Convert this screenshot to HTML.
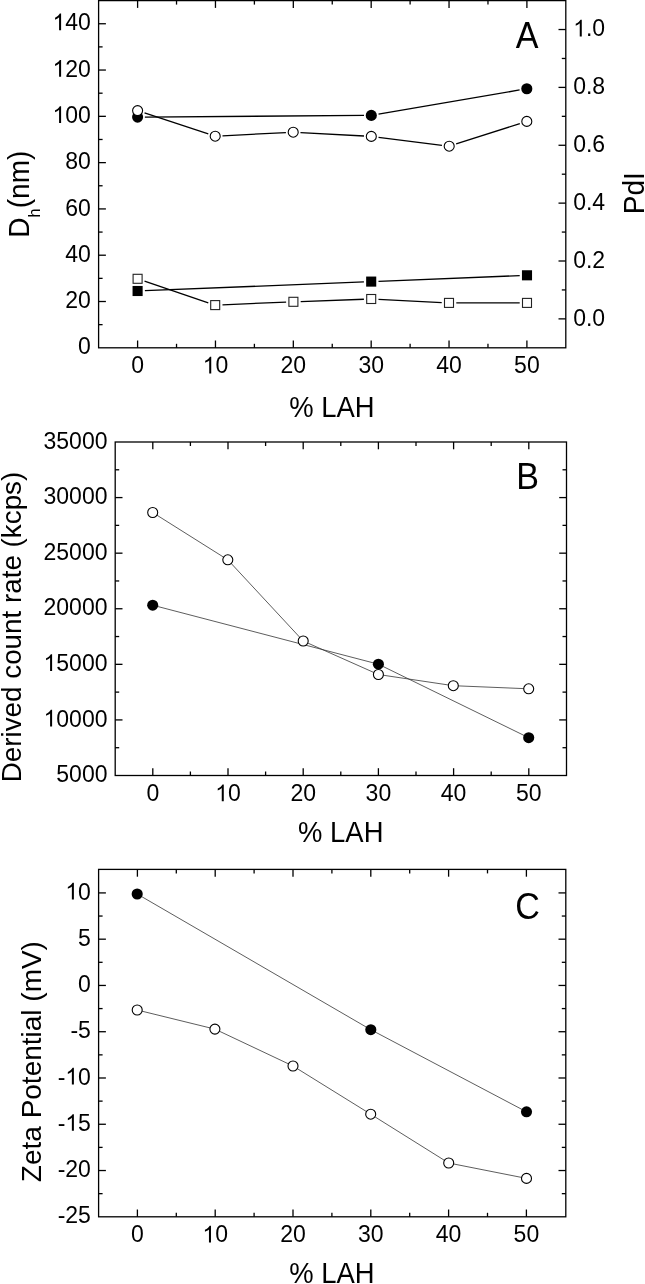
<!DOCTYPE html>
<html><head><meta charset="utf-8"><title>DLS panels</title>
<style>
html,body{margin:0;padding:0;background:#fff;}
body{width:645px;height:1284px;overflow:hidden;}
svg{display:block;will-change:transform;}
text{font-family:"Liberation Sans", sans-serif;fill:#000;}
</style></head>
<body>
<svg width="645" height="1284" viewBox="0 0 645 1284">
<rect width="645" height="1284" fill="#fff"/>
<rect x="98.6" y="0.6" width="467.2" height="347.2" fill="none" stroke="#000" stroke-width="1.3"/>
<line x1="137.6" y1="347.8" x2="137.6" y2="340.5" stroke="#000" stroke-width="1.3"/>
<line x1="137.6" y1="0.6" x2="137.6" y2="7.9" stroke="#000" stroke-width="1.3"/>
<text x="137.6" y="373.47" font-size="23" text-anchor="middle">0</text>
<line x1="176.53" y1="347.8" x2="176.53" y2="343.8" stroke="#000" stroke-width="1.3"/>
<line x1="176.53" y1="0.6" x2="176.53" y2="4.6" stroke="#000" stroke-width="1.3"/>
<line x1="215.46" y1="347.8" x2="215.46" y2="340.5" stroke="#000" stroke-width="1.3"/>
<line x1="215.46" y1="0.6" x2="215.46" y2="7.9" stroke="#000" stroke-width="1.3"/>
<text x="202.67" y="373.47" font-size="23"> 0</text>
<path transform="translate(202.67 373.47) scale(0.01123 -0.01123)" d="M763 0L583 0L583 1165 Q518 1103 413 1041 Q308 979 225 948 L225 1122 Q376 1193 489 1294 Q602 1395 649 1490 L763 1490 Z"/>
<line x1="254.39" y1="347.8" x2="254.39" y2="343.8" stroke="#000" stroke-width="1.3"/>
<line x1="254.39" y1="0.6" x2="254.39" y2="4.6" stroke="#000" stroke-width="1.3"/>
<line x1="293.32" y1="347.8" x2="293.32" y2="340.5" stroke="#000" stroke-width="1.3"/>
<line x1="293.32" y1="0.6" x2="293.32" y2="7.9" stroke="#000" stroke-width="1.3"/>
<text x="293.32" y="373.47" font-size="23" text-anchor="middle">20</text>
<line x1="332.25" y1="347.8" x2="332.25" y2="343.8" stroke="#000" stroke-width="1.3"/>
<line x1="332.25" y1="0.6" x2="332.25" y2="4.6" stroke="#000" stroke-width="1.3"/>
<line x1="371.18" y1="347.8" x2="371.18" y2="340.5" stroke="#000" stroke-width="1.3"/>
<line x1="371.18" y1="0.6" x2="371.18" y2="7.9" stroke="#000" stroke-width="1.3"/>
<text x="371.18" y="373.47" font-size="23" text-anchor="middle">30</text>
<line x1="410.11" y1="347.8" x2="410.11" y2="343.8" stroke="#000" stroke-width="1.3"/>
<line x1="410.11" y1="0.6" x2="410.11" y2="4.6" stroke="#000" stroke-width="1.3"/>
<line x1="449.04" y1="347.8" x2="449.04" y2="340.5" stroke="#000" stroke-width="1.3"/>
<line x1="449.04" y1="0.6" x2="449.04" y2="7.9" stroke="#000" stroke-width="1.3"/>
<text x="449.04" y="373.47" font-size="23" text-anchor="middle">40</text>
<line x1="487.97" y1="347.8" x2="487.97" y2="343.8" stroke="#000" stroke-width="1.3"/>
<line x1="487.97" y1="0.6" x2="487.97" y2="4.6" stroke="#000" stroke-width="1.3"/>
<line x1="526.9" y1="347.8" x2="526.9" y2="340.5" stroke="#000" stroke-width="1.3"/>
<line x1="526.9" y1="0.6" x2="526.9" y2="7.9" stroke="#000" stroke-width="1.3"/>
<text x="526.9" y="373.47" font-size="23" text-anchor="middle">50</text>
<line x1="98.6" y1="324.65" x2="102.6" y2="324.65" stroke="#000" stroke-width="1.3"/>
<line x1="98.6" y1="301.51" x2="105.9" y2="301.51" stroke="#000" stroke-width="1.3"/>
<text x="90.9" y="308.11" font-size="23" text-anchor="end">20</text>
<line x1="98.6" y1="278.36" x2="102.6" y2="278.36" stroke="#000" stroke-width="1.3"/>
<line x1="98.6" y1="255.21" x2="105.9" y2="255.21" stroke="#000" stroke-width="1.3"/>
<text x="90.9" y="261.81" font-size="23" text-anchor="end">40</text>
<line x1="98.6" y1="232.07" x2="102.6" y2="232.07" stroke="#000" stroke-width="1.3"/>
<line x1="98.6" y1="208.92" x2="105.9" y2="208.92" stroke="#000" stroke-width="1.3"/>
<text x="90.9" y="215.52" font-size="23" text-anchor="end">60</text>
<line x1="98.6" y1="185.77" x2="102.6" y2="185.77" stroke="#000" stroke-width="1.3"/>
<line x1="98.6" y1="162.63" x2="105.9" y2="162.63" stroke="#000" stroke-width="1.3"/>
<text x="90.9" y="169.23" font-size="23" text-anchor="end">80</text>
<line x1="98.6" y1="139.48" x2="102.6" y2="139.48" stroke="#000" stroke-width="1.3"/>
<line x1="98.6" y1="116.33" x2="105.9" y2="116.33" stroke="#000" stroke-width="1.3"/>
<text x="52.53" y="122.93" font-size="23"> 00</text>
<path transform="translate(52.53 122.93) scale(0.01123 -0.01123)" d="M763 0L583 0L583 1165 Q518 1103 413 1041 Q308 979 225 948 L225 1122 Q376 1193 489 1294 Q602 1395 649 1490 L763 1490 Z"/>
<line x1="98.6" y1="93.19" x2="102.6" y2="93.19" stroke="#000" stroke-width="1.3"/>
<line x1="98.6" y1="70.04" x2="105.9" y2="70.04" stroke="#000" stroke-width="1.3"/>
<text x="52.53" y="76.64" font-size="23"> 20</text>
<path transform="translate(52.53 76.64) scale(0.01123 -0.01123)" d="M763 0L583 0L583 1165 Q518 1103 413 1041 Q308 979 225 948 L225 1122 Q376 1193 489 1294 Q602 1395 649 1490 L763 1490 Z"/>
<line x1="98.6" y1="46.89" x2="102.6" y2="46.89" stroke="#000" stroke-width="1.3"/>
<line x1="98.6" y1="23.75" x2="105.9" y2="23.75" stroke="#000" stroke-width="1.3"/>
<text x="52.53" y="30.35" font-size="23"> 40</text>
<path transform="translate(52.53 30.35) scale(0.01123 -0.01123)" d="M763 0L583 0L583 1165 Q518 1103 413 1041 Q308 979 225 948 L225 1122 Q376 1193 489 1294 Q602 1395 649 1490 L763 1490 Z"/>
<text x="90.9" y="354.4" font-size="23" text-anchor="end">0</text>
<line x1="565.8" y1="318.87" x2="558.5" y2="318.87" stroke="#000" stroke-width="1.3"/>
<text x="573.2" y="325.77" font-size="23" text-anchor="start">0.0</text>
<line x1="565.8" y1="289.93" x2="561.8" y2="289.93" stroke="#000" stroke-width="1.3"/>
<line x1="565.8" y1="261" x2="558.5" y2="261" stroke="#000" stroke-width="1.3"/>
<text x="573.2" y="267.9" font-size="23" text-anchor="start">0.2</text>
<line x1="565.8" y1="232.07" x2="561.8" y2="232.07" stroke="#000" stroke-width="1.3"/>
<line x1="565.8" y1="203.13" x2="558.5" y2="203.13" stroke="#000" stroke-width="1.3"/>
<text x="573.2" y="210.03" font-size="23" text-anchor="start">0.4</text>
<line x1="565.8" y1="174.2" x2="561.8" y2="174.2" stroke="#000" stroke-width="1.3"/>
<line x1="565.8" y1="145.27" x2="558.5" y2="145.27" stroke="#000" stroke-width="1.3"/>
<text x="573.2" y="152.17" font-size="23" text-anchor="start">0.6</text>
<line x1="565.8" y1="116.33" x2="561.8" y2="116.33" stroke="#000" stroke-width="1.3"/>
<line x1="565.8" y1="87.4" x2="558.5" y2="87.4" stroke="#000" stroke-width="1.3"/>
<text x="573.2" y="94.3" font-size="23" text-anchor="start">0.8</text>
<line x1="565.8" y1="58.47" x2="561.8" y2="58.47" stroke="#000" stroke-width="1.3"/>
<line x1="565.8" y1="29.53" x2="558.5" y2="29.53" stroke="#000" stroke-width="1.3"/>
<text x="573.2" y="36.43" font-size="23"> .0</text>
<path transform="translate(573.2 36.43) scale(0.01123 -0.01123)" d="M763 0L583 0L583 1165 Q518 1103 413 1041 Q308 979 225 948 L225 1122 Q376 1193 489 1294 Q602 1395 649 1490 L763 1490 Z"/>
<line x1="144.89" y1="290.71" x2="363.91" y2="281.89" stroke="#000" stroke-width="1.3"/>
<line x1="378.49" y1="281.31" x2="519.71" y2="275.59" stroke="#000" stroke-width="1.3"/>
<rect x="132.55" y="285.95" width="10.1" height="10.1" fill="#000"/>
<rect x="366.15" y="276.55" width="10.1" height="10.1" fill="#000"/>
<rect x="521.95" y="270.25" width="10.1" height="10.1" fill="#000"/>
<line x1="144.51" y1="281.14" x2="208.29" y2="302.76" stroke="#000" stroke-width="1.3"/>
<line x1="222.49" y1="304.79" x2="286.11" y2="302.11" stroke="#000" stroke-width="1.3"/>
<line x1="300.7" y1="301.54" x2="363.9" y2="299.26" stroke="#000" stroke-width="1.3"/>
<line x1="378.49" y1="299.37" x2="441.71" y2="302.53" stroke="#000" stroke-width="1.3"/>
<line x1="456.3" y1="302.9" x2="519.7" y2="302.9" stroke="#000" stroke-width="1.3"/>
<rect x="133.1" y="274.3" width="9" height="9" fill="#fff" stroke="#222" stroke-width="1.1"/>
<rect x="210.7" y="300.6" width="9" height="9" fill="#fff" stroke="#222" stroke-width="1.1"/>
<rect x="288.9" y="297.3" width="9" height="9" fill="#fff" stroke="#222" stroke-width="1.1"/>
<rect x="366.7" y="294.5" width="9" height="9" fill="#fff" stroke="#222" stroke-width="1.1"/>
<rect x="444.5" y="298.4" width="9" height="9" fill="#fff" stroke="#222" stroke-width="1.1"/>
<rect x="522.5" y="298.4" width="9" height="9" fill="#fff" stroke="#222" stroke-width="1.1"/>
<line x1="144.9" y1="117.05" x2="364" y2="115.45" stroke="#000" stroke-width="1.3"/>
<line x1="378.5" y1="114.17" x2="519.6" y2="89.98" stroke="#000" stroke-width="1.3"/>
<circle cx="137.6" cy="117.1" r="5.55" fill="#000"/>
<circle cx="371.3" cy="115.4" r="5.55" fill="#000"/>
<circle cx="526.8" cy="88.75" r="5.55" fill="#000"/>
<line x1="144.53" y1="112.89" x2="208.27" y2="133.91" stroke="#000" stroke-width="1.3"/>
<line x1="222.49" y1="135.83" x2="285.91" y2="132.57" stroke="#000" stroke-width="1.3"/>
<line x1="300.49" y1="132.59" x2="364.01" y2="136.01" stroke="#000" stroke-width="1.3"/>
<line x1="378.54" y1="137.31" x2="441.96" y2="145.29" stroke="#000" stroke-width="1.3"/>
<line x1="456.15" y1="143.98" x2="519.85" y2="123.62" stroke="#000" stroke-width="1.3"/>
<circle cx="137.6" cy="110.6" r="5" fill="#fff" stroke="#000" stroke-width="1.1"/>
<circle cx="215.2" cy="136.2" r="5" fill="#fff" stroke="#000" stroke-width="1.1"/>
<circle cx="293.2" cy="132.2" r="5" fill="#fff" stroke="#000" stroke-width="1.1"/>
<circle cx="371.3" cy="136.4" r="5" fill="#fff" stroke="#000" stroke-width="1.1"/>
<circle cx="449.2" cy="146.2" r="5" fill="#fff" stroke="#000" stroke-width="1.1"/>
<circle cx="526.8" cy="121.4" r="5" fill="#fff" stroke="#000" stroke-width="1.1"/>
<text transform="translate(527.2 47.7) scale(0.96 1.03)" font-size="35.5" text-anchor="middle">A</text>
<text transform="translate(332 416.8) scale(0.98 1.05)" font-size="28" text-anchor="middle">% LAH</text>
<text transform="translate(29.2 237.8) rotate(-90) scale(1 1.03)" font-size="28">D<tspan font-size="16.3" dy="10.6">h</tspan><tspan dy="-10.6" dx="0.3">(nm)</tspan></text>
<text transform="translate(644 193.2) rotate(-90) scale(1 1.03)" font-size="28" text-anchor="middle">PdI</text>
<rect x="115.2" y="442" width="451.3" height="333.5" fill="none" stroke="#000" stroke-width="1.3"/>
<line x1="152.8" y1="775.5" x2="152.8" y2="768.2" stroke="#000" stroke-width="1.3"/>
<line x1="152.8" y1="442" x2="152.8" y2="449.3" stroke="#000" stroke-width="1.3"/>
<text x="152.8" y="801.17" font-size="23" text-anchor="middle">0</text>
<line x1="190.4" y1="775.5" x2="190.4" y2="771.5" stroke="#000" stroke-width="1.3"/>
<line x1="190.4" y1="442" x2="190.4" y2="446" stroke="#000" stroke-width="1.3"/>
<line x1="228" y1="775.5" x2="228" y2="768.2" stroke="#000" stroke-width="1.3"/>
<line x1="228" y1="442" x2="228" y2="449.3" stroke="#000" stroke-width="1.3"/>
<text x="215.21" y="801.17" font-size="23"> 0</text>
<path transform="translate(215.21 801.17) scale(0.01123 -0.01123)" d="M763 0L583 0L583 1165 Q518 1103 413 1041 Q308 979 225 948 L225 1122 Q376 1193 489 1294 Q602 1395 649 1490 L763 1490 Z"/>
<line x1="265.6" y1="775.5" x2="265.6" y2="771.5" stroke="#000" stroke-width="1.3"/>
<line x1="265.6" y1="442" x2="265.6" y2="446" stroke="#000" stroke-width="1.3"/>
<line x1="303.2" y1="775.5" x2="303.2" y2="768.2" stroke="#000" stroke-width="1.3"/>
<line x1="303.2" y1="442" x2="303.2" y2="449.3" stroke="#000" stroke-width="1.3"/>
<text x="303.2" y="801.17" font-size="23" text-anchor="middle">20</text>
<line x1="340.8" y1="775.5" x2="340.8" y2="771.5" stroke="#000" stroke-width="1.3"/>
<line x1="340.8" y1="442" x2="340.8" y2="446" stroke="#000" stroke-width="1.3"/>
<line x1="378.4" y1="775.5" x2="378.4" y2="768.2" stroke="#000" stroke-width="1.3"/>
<line x1="378.4" y1="442" x2="378.4" y2="449.3" stroke="#000" stroke-width="1.3"/>
<text x="378.4" y="801.17" font-size="23" text-anchor="middle">30</text>
<line x1="416" y1="775.5" x2="416" y2="771.5" stroke="#000" stroke-width="1.3"/>
<line x1="416" y1="442" x2="416" y2="446" stroke="#000" stroke-width="1.3"/>
<line x1="453.6" y1="775.5" x2="453.6" y2="768.2" stroke="#000" stroke-width="1.3"/>
<line x1="453.6" y1="442" x2="453.6" y2="449.3" stroke="#000" stroke-width="1.3"/>
<text x="453.6" y="801.17" font-size="23" text-anchor="middle">40</text>
<line x1="491.2" y1="775.5" x2="491.2" y2="771.5" stroke="#000" stroke-width="1.3"/>
<line x1="491.2" y1="442" x2="491.2" y2="446" stroke="#000" stroke-width="1.3"/>
<line x1="528.8" y1="775.5" x2="528.8" y2="768.2" stroke="#000" stroke-width="1.3"/>
<line x1="528.8" y1="442" x2="528.8" y2="449.3" stroke="#000" stroke-width="1.3"/>
<text x="528.8" y="801.17" font-size="23" text-anchor="middle">50</text>
<text x="107.5" y="782.1" font-size="23" text-anchor="end">5000</text>
<line x1="115.2" y1="747.71" x2="119.2" y2="747.71" stroke="#000" stroke-width="1.3"/>
<line x1="566.5" y1="747.71" x2="562.5" y2="747.71" stroke="#000" stroke-width="1.3"/>
<line x1="115.2" y1="719.92" x2="122.5" y2="719.92" stroke="#000" stroke-width="1.3"/>
<line x1="566.5" y1="719.92" x2="559.2" y2="719.92" stroke="#000" stroke-width="1.3"/>
<text x="43.54" y="726.52" font-size="23"> 0000</text>
<path transform="translate(43.54 726.52) scale(0.01123 -0.01123)" d="M763 0L583 0L583 1165 Q518 1103 413 1041 Q308 979 225 948 L225 1122 Q376 1193 489 1294 Q602 1395 649 1490 L763 1490 Z"/>
<line x1="115.2" y1="692.12" x2="119.2" y2="692.12" stroke="#000" stroke-width="1.3"/>
<line x1="566.5" y1="692.12" x2="562.5" y2="692.12" stroke="#000" stroke-width="1.3"/>
<line x1="115.2" y1="664.33" x2="122.5" y2="664.33" stroke="#000" stroke-width="1.3"/>
<line x1="566.5" y1="664.33" x2="559.2" y2="664.33" stroke="#000" stroke-width="1.3"/>
<text x="43.54" y="670.93" font-size="23"> 5000</text>
<path transform="translate(43.54 670.93) scale(0.01123 -0.01123)" d="M763 0L583 0L583 1165 Q518 1103 413 1041 Q308 979 225 948 L225 1122 Q376 1193 489 1294 Q602 1395 649 1490 L763 1490 Z"/>
<line x1="115.2" y1="636.54" x2="119.2" y2="636.54" stroke="#000" stroke-width="1.3"/>
<line x1="566.5" y1="636.54" x2="562.5" y2="636.54" stroke="#000" stroke-width="1.3"/>
<line x1="115.2" y1="608.75" x2="122.5" y2="608.75" stroke="#000" stroke-width="1.3"/>
<line x1="566.5" y1="608.75" x2="559.2" y2="608.75" stroke="#000" stroke-width="1.3"/>
<text x="107.5" y="615.35" font-size="23" text-anchor="end">20000</text>
<line x1="115.2" y1="580.96" x2="119.2" y2="580.96" stroke="#000" stroke-width="1.3"/>
<line x1="566.5" y1="580.96" x2="562.5" y2="580.96" stroke="#000" stroke-width="1.3"/>
<line x1="115.2" y1="553.17" x2="122.5" y2="553.17" stroke="#000" stroke-width="1.3"/>
<line x1="566.5" y1="553.17" x2="559.2" y2="553.17" stroke="#000" stroke-width="1.3"/>
<text x="107.5" y="559.77" font-size="23" text-anchor="end">25000</text>
<line x1="115.2" y1="525.38" x2="119.2" y2="525.38" stroke="#000" stroke-width="1.3"/>
<line x1="566.5" y1="525.38" x2="562.5" y2="525.38" stroke="#000" stroke-width="1.3"/>
<line x1="115.2" y1="497.58" x2="122.5" y2="497.58" stroke="#000" stroke-width="1.3"/>
<line x1="566.5" y1="497.58" x2="559.2" y2="497.58" stroke="#000" stroke-width="1.3"/>
<text x="107.5" y="504.18" font-size="23" text-anchor="end">30000</text>
<line x1="115.2" y1="469.79" x2="119.2" y2="469.79" stroke="#000" stroke-width="1.3"/>
<line x1="566.5" y1="469.79" x2="562.5" y2="469.79" stroke="#000" stroke-width="1.3"/>
<text x="107.5" y="448.6" font-size="23" text-anchor="end">35000</text>
<path d="M152.7 605.2 L378.4 664.2 L528.7 737.7" fill="none" stroke="#333" stroke-width="0.8" stroke-linejoin="round"/>
<circle cx="152.7" cy="605.2" r="5.55" fill="#000"/>
<circle cx="378.4" cy="664.2" r="5.55" fill="#000"/>
<circle cx="528.7" cy="737.7" r="5.55" fill="#000"/>
<path d="M152.7 512.5 L227.8 559.8 L303.2 641 L378.4 674.5 L453.3 685.7 L528.7 688.8" fill="none" stroke="#333" stroke-width="0.8" stroke-linejoin="round"/>
<circle cx="152.7" cy="512.5" r="5" fill="#fff" stroke="#000" stroke-width="1.1"/>
<circle cx="227.8" cy="559.8" r="5" fill="#fff" stroke="#000" stroke-width="1.1"/>
<circle cx="303.2" cy="641" r="5" fill="#fff" stroke="#000" stroke-width="1.1"/>
<circle cx="378.4" cy="674.5" r="5" fill="#fff" stroke="#000" stroke-width="1.1"/>
<circle cx="453.3" cy="685.7" r="5" fill="#fff" stroke="#000" stroke-width="1.1"/>
<circle cx="528.7" cy="688.8" r="5" fill="#fff" stroke="#000" stroke-width="1.1"/>
<text transform="translate(527.7 488.8) scale(0.96 1.03)" font-size="35.5" text-anchor="middle">B</text>
<text transform="translate(340.8 842.2) scale(0.98 1.05)" font-size="28" text-anchor="middle">% LAH</text>
<text transform="translate(20.8 627) rotate(-90)" font-size="27.8" text-anchor="middle">Derived count rate (kcps)</text>
<rect x="98.6" y="869.4" width="467.2" height="347.4" fill="none" stroke="#000" stroke-width="1.3"/>
<line x1="137.4" y1="1216.8" x2="137.4" y2="1209.5" stroke="#000" stroke-width="1.3"/>
<line x1="137.4" y1="869.4" x2="137.4" y2="876.7" stroke="#000" stroke-width="1.3"/>
<text x="137.4" y="1242.47" font-size="23" text-anchor="middle">0</text>
<line x1="176.3" y1="1216.8" x2="176.3" y2="1212.8" stroke="#000" stroke-width="1.3"/>
<line x1="176.3" y1="869.4" x2="176.3" y2="873.4" stroke="#000" stroke-width="1.3"/>
<line x1="215.2" y1="1216.8" x2="215.2" y2="1209.5" stroke="#000" stroke-width="1.3"/>
<line x1="215.2" y1="869.4" x2="215.2" y2="876.7" stroke="#000" stroke-width="1.3"/>
<text x="202.41" y="1242.47" font-size="23"> 0</text>
<path transform="translate(202.41 1242.47) scale(0.01123 -0.01123)" d="M763 0L583 0L583 1165 Q518 1103 413 1041 Q308 979 225 948 L225 1122 Q376 1193 489 1294 Q602 1395 649 1490 L763 1490 Z"/>
<line x1="254.1" y1="1216.8" x2="254.1" y2="1212.8" stroke="#000" stroke-width="1.3"/>
<line x1="254.1" y1="869.4" x2="254.1" y2="873.4" stroke="#000" stroke-width="1.3"/>
<line x1="293" y1="1216.8" x2="293" y2="1209.5" stroke="#000" stroke-width="1.3"/>
<line x1="293" y1="869.4" x2="293" y2="876.7" stroke="#000" stroke-width="1.3"/>
<text x="293" y="1242.47" font-size="23" text-anchor="middle">20</text>
<line x1="331.9" y1="1216.8" x2="331.9" y2="1212.8" stroke="#000" stroke-width="1.3"/>
<line x1="331.9" y1="869.4" x2="331.9" y2="873.4" stroke="#000" stroke-width="1.3"/>
<line x1="370.8" y1="1216.8" x2="370.8" y2="1209.5" stroke="#000" stroke-width="1.3"/>
<line x1="370.8" y1="869.4" x2="370.8" y2="876.7" stroke="#000" stroke-width="1.3"/>
<text x="370.8" y="1242.47" font-size="23" text-anchor="middle">30</text>
<line x1="409.7" y1="1216.8" x2="409.7" y2="1212.8" stroke="#000" stroke-width="1.3"/>
<line x1="409.7" y1="869.4" x2="409.7" y2="873.4" stroke="#000" stroke-width="1.3"/>
<line x1="448.6" y1="1216.8" x2="448.6" y2="1209.5" stroke="#000" stroke-width="1.3"/>
<line x1="448.6" y1="869.4" x2="448.6" y2="876.7" stroke="#000" stroke-width="1.3"/>
<text x="448.6" y="1242.47" font-size="23" text-anchor="middle">40</text>
<line x1="487.5" y1="1216.8" x2="487.5" y2="1212.8" stroke="#000" stroke-width="1.3"/>
<line x1="487.5" y1="869.4" x2="487.5" y2="873.4" stroke="#000" stroke-width="1.3"/>
<line x1="526.4" y1="1216.8" x2="526.4" y2="1209.5" stroke="#000" stroke-width="1.3"/>
<line x1="526.4" y1="869.4" x2="526.4" y2="876.7" stroke="#000" stroke-width="1.3"/>
<text x="526.4" y="1242.47" font-size="23" text-anchor="middle">50</text>
<text x="90.9" y="1223.4" font-size="23" text-anchor="end">-25</text>
<line x1="98.6" y1="1193.66" x2="102.6" y2="1193.66" stroke="#000" stroke-width="1.3"/>
<line x1="565.8" y1="1193.66" x2="561.8" y2="1193.66" stroke="#000" stroke-width="1.3"/>
<line x1="98.6" y1="1170.53" x2="105.9" y2="1170.53" stroke="#000" stroke-width="1.3"/>
<line x1="565.8" y1="1170.53" x2="558.5" y2="1170.53" stroke="#000" stroke-width="1.3"/>
<text x="90.9" y="1177.13" font-size="23" text-anchor="end">-20</text>
<line x1="98.6" y1="1147.39" x2="102.6" y2="1147.39" stroke="#000" stroke-width="1.3"/>
<line x1="565.8" y1="1147.39" x2="561.8" y2="1147.39" stroke="#000" stroke-width="1.3"/>
<line x1="98.6" y1="1124.26" x2="105.9" y2="1124.26" stroke="#000" stroke-width="1.3"/>
<line x1="565.8" y1="1124.26" x2="558.5" y2="1124.26" stroke="#000" stroke-width="1.3"/>
<text x="57.66" y="1130.86" font-size="23">- 5</text>
<path transform="translate(65.32 1130.86) scale(0.01123 -0.01123)" d="M763 0L583 0L583 1165 Q518 1103 413 1041 Q308 979 225 948 L225 1122 Q376 1193 489 1294 Q602 1395 649 1490 L763 1490 Z"/>
<line x1="98.6" y1="1101.12" x2="102.6" y2="1101.12" stroke="#000" stroke-width="1.3"/>
<line x1="565.8" y1="1101.12" x2="561.8" y2="1101.12" stroke="#000" stroke-width="1.3"/>
<line x1="98.6" y1="1077.99" x2="105.9" y2="1077.99" stroke="#000" stroke-width="1.3"/>
<line x1="565.8" y1="1077.99" x2="558.5" y2="1077.99" stroke="#000" stroke-width="1.3"/>
<text x="57.66" y="1084.59" font-size="23">- 0</text>
<path transform="translate(65.32 1084.59) scale(0.01123 -0.01123)" d="M763 0L583 0L583 1165 Q518 1103 413 1041 Q308 979 225 948 L225 1122 Q376 1193 489 1294 Q602 1395 649 1490 L763 1490 Z"/>
<line x1="98.6" y1="1054.86" x2="102.6" y2="1054.86" stroke="#000" stroke-width="1.3"/>
<line x1="565.8" y1="1054.86" x2="561.8" y2="1054.86" stroke="#000" stroke-width="1.3"/>
<line x1="98.6" y1="1031.72" x2="105.9" y2="1031.72" stroke="#000" stroke-width="1.3"/>
<line x1="565.8" y1="1031.72" x2="558.5" y2="1031.72" stroke="#000" stroke-width="1.3"/>
<text x="90.9" y="1038.32" font-size="23" text-anchor="end">-5</text>
<line x1="98.6" y1="1008.58" x2="102.6" y2="1008.58" stroke="#000" stroke-width="1.3"/>
<line x1="565.8" y1="1008.58" x2="561.8" y2="1008.58" stroke="#000" stroke-width="1.3"/>
<line x1="98.6" y1="985.45" x2="105.9" y2="985.45" stroke="#000" stroke-width="1.3"/>
<line x1="565.8" y1="985.45" x2="558.5" y2="985.45" stroke="#000" stroke-width="1.3"/>
<text x="90.9" y="992.05" font-size="23" text-anchor="end">0</text>
<line x1="98.6" y1="962.31" x2="102.6" y2="962.31" stroke="#000" stroke-width="1.3"/>
<line x1="565.8" y1="962.31" x2="561.8" y2="962.31" stroke="#000" stroke-width="1.3"/>
<line x1="98.6" y1="939.18" x2="105.9" y2="939.18" stroke="#000" stroke-width="1.3"/>
<line x1="565.8" y1="939.18" x2="558.5" y2="939.18" stroke="#000" stroke-width="1.3"/>
<text x="90.9" y="945.78" font-size="23" text-anchor="end">5</text>
<line x1="98.6" y1="916.04" x2="102.6" y2="916.04" stroke="#000" stroke-width="1.3"/>
<line x1="565.8" y1="916.04" x2="561.8" y2="916.04" stroke="#000" stroke-width="1.3"/>
<line x1="98.6" y1="892.91" x2="105.9" y2="892.91" stroke="#000" stroke-width="1.3"/>
<line x1="565.8" y1="892.91" x2="558.5" y2="892.91" stroke="#000" stroke-width="1.3"/>
<text x="65.32" y="899.51" font-size="23"> 0</text>
<path transform="translate(65.32 899.51) scale(0.01123 -0.01123)" d="M763 0L583 0L583 1165 Q518 1103 413 1041 Q308 979 225 948 L225 1122 Q376 1193 489 1294 Q602 1395 649 1490 L763 1490 Z"/>
<path d="M137.2 894 L370.8 1029.7 L526.5 1111.8" fill="none" stroke="#333" stroke-width="0.8" stroke-linejoin="round"/>
<circle cx="137.2" cy="894" r="5.55" fill="#000"/>
<circle cx="370.8" cy="1029.7" r="5.55" fill="#000"/>
<circle cx="526.5" cy="1111.8" r="5.55" fill="#000"/>
<path d="M137.2 1010 L214.9 1029.1 L293 1066 L370.7 1114.2 L448.7 1163 L526.5 1178.4" fill="none" stroke="#333" stroke-width="0.8" stroke-linejoin="round"/>
<circle cx="137.2" cy="1010" r="5" fill="#fff" stroke="#000" stroke-width="1.1"/>
<circle cx="214.9" cy="1029.1" r="5" fill="#fff" stroke="#000" stroke-width="1.1"/>
<circle cx="293" cy="1066" r="5" fill="#fff" stroke="#000" stroke-width="1.1"/>
<circle cx="370.7" cy="1114.2" r="5" fill="#fff" stroke="#000" stroke-width="1.1"/>
<circle cx="448.7" cy="1163" r="5" fill="#fff" stroke="#000" stroke-width="1.1"/>
<circle cx="526.5" cy="1178.4" r="5" fill="#fff" stroke="#000" stroke-width="1.1"/>
<text transform="translate(527.5 918.9) scale(0.96 1.03)" font-size="35.5" text-anchor="middle">C</text>
<text transform="translate(332 1283.4) scale(0.98 1.05)" font-size="28" text-anchor="middle">% LAH</text>
<text transform="translate(41.2 1061.6) rotate(-90) scale(1 1.01)" font-size="28" text-anchor="middle">Zeta Potential (mV)</text>
</svg>
</body></html>
